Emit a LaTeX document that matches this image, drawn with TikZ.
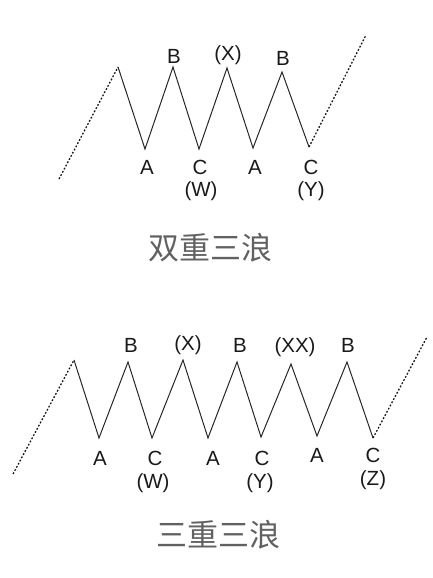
\documentclass[tikz,border=0pt]{standalone}
\usepackage{fontspec}
\setmainfont{Liberation Sans}
\newfontfamily\cjk{Noto Sans CJK SC}
\begin{document}
\begin{tikzpicture}[x=1pt,y=-1pt,
  wave/.style={draw=black!85,line width=1pt,line join=miter},
  dots/.style={draw=black!90,line width=1.3pt,dash pattern=on 1.8pt off 1.8pt},
  lbl/.style={font=\fontsize{20.5}{20.5}\selectfont,text=black!90,inner sep=0pt},
  title/.style={font=\cjk\fontsize{31}{31}\selectfont,text=black!62,inner sep=0pt}]
\useasboundingbox (0,0) rectangle (432,578);
% ---- top: double three ----
\coordinate (t0) at (59,179);
\coordinate (t1) at (118,67);
\coordinate (t2) at (145,149);
\coordinate (t3) at (173,67);
\coordinate (t4) at (199,149);
\coordinate (t5) at (227,68);
\coordinate (t6) at (253,148);
\coordinate (t7) at (282,72);
\coordinate (t8) at (309,147);
\coordinate (t9) at (366,35);
\draw[dots] (t0) -- (t1);
\draw[wave] (t1) -- (t2) -- (t3) -- (t4) -- (t5) -- (t6) -- (t7) -- (t8);
\draw[dots] (t8) -- (t9);
\node[lbl] (tB1) at (174,56) {B};
\node[lbl] (tX) at (228,55) {(X)};
\node[lbl] (tB2) at (283,58) {B};
\node[lbl] (tA1) at (147,167) {A};
\node[lbl] (tC1) at (200,167) {C};
\node[lbl] (tW) at (201,191) {(W)};
\node[lbl] (tA2) at (255,167) {A};
\node[lbl] (tC2) at (311,167) {C};
\node[lbl] (tY) at (311,191) {(Y)};
\node[title] (t1title) at (210,248) {双重三浪};
% ---- bottom: triple three ----
\coordinate (b0) at (13,474);
\coordinate (b1) at (74,360);
\coordinate (b2) at (99,438);
\coordinate (b3) at (128,362);
\coordinate (b4) at (152,438);
\coordinate (b5) at (183,360);
\coordinate (b6) at (208,438);
\coordinate (b7) at (237,362);
\coordinate (b8) at (261,437);
\coordinate (b9) at (291,364);
\coordinate (b10) at (317,436);
\coordinate (b11) at (347,362);
\coordinate (b12) at (373,438);
\coordinate (b13) at (427,337);
\draw[dots] (b0) -- (b1);
\draw[wave] (b1) -- (b2) -- (b3) -- (b4) -- (b5) -- (b6) -- (b7) -- (b8) -- (b9) -- (b10) -- (b11) -- (b12);
\draw[dots] (b12) -- (b13);
\node[lbl] (bB1) at (131,345) {B};
\node[lbl] (bX) at (188,345) {(X)};
\node[lbl] (bB2) at (240,345) {B};
\node[lbl] (bXX) at (295,347) {(XX)};
\node[lbl] (bB3) at (348,345) {B};
\node[lbl] (bA1) at (100,458) {A};
\node[lbl] (bC1) at (155,458) {C};
\node[lbl] (bW) at (153,483) {(W)};
\node[lbl] (bA2) at (213,458) {A};
\node[lbl] (bC2) at (262,458) {C};
\node[lbl] (bY) at (260,483) {(Y)};
\node[lbl] (bA3) at (317,455) {A};
\node[lbl] (bC3) at (373,455) {C};
\node[lbl] (bZ) at (373,480) {(Z)};
\node[title] (b1title) at (218,535) {三重三浪};
\end{tikzpicture}
\end{document}
